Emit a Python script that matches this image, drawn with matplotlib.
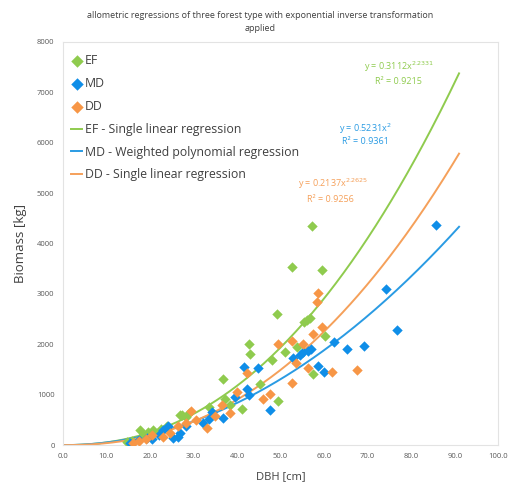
import numpy as np
import matplotlib
matplotlib.use("Agg")
import matplotlib.pyplot as plt

plt.rcParams['font.family'] = ['Open Sans', 'DejaVu Sans']

title = "allometric regressions of three forest type with exponential inverse transformation\napplied"

ef_dbh = [14.7, 15.8, 17.7, 18.4, 19.5, 20.7, 21.8, 22.5, 24.0, 26.9, 27.4, 28.2, 29.0, 33.5,
          36.8, 37.2, 38.5, 41.1, 42.8, 43.0, 45.3, 48.0, 49.2, 49.4, 51.0, 52.6, 53.8, 55.5,
          56.1, 56.7, 57.2, 57.5, 59.5, 60.2]
ef_bio = [60, 80, 298, 198, 260, 298, 240, 320, 380, 595, 595, 560, 640, 750,
          1310, 913, 800, 714, 2004, 1806, 1210, 1687, 2600, 873, 1845, 3532, 1944, 2450,
          2480, 2520, 4345, 1409, 3472, 2163]

md_dbh = [15.5, 17.5, 19.3, 20.5, 22.0, 23.0, 24.1, 25.3, 26.4, 27.0, 28.3, 32.2, 33.5, 34.3,
          36.8, 39.5, 41.6, 42.3, 42.8, 44.8, 47.6, 52.9, 54.5, 55.2, 56.3, 57.0, 58.6, 60.0,
          62.3, 65.3, 69.2, 74.3, 76.8, 85.7]
md_bio = [40, 100, 150, 120, 200, 300, 377, 139, 159, 250, 380, 436, 520, 655,
          536, 952, 1548, 1111, 1000, 1528, 694, 1726, 1786, 1850, 1865, 1900, 1567, 1448,
          2044, 1905, 1964, 3095, 2282, 4365]

dd_dbh = [16.1, 17.5, 19.0, 20.5, 23.0, 24.5, 26.5, 28.3, 29.4, 30.5, 33.1, 34.9, 36.5, 38.4,
          40.0, 42.3, 46.0, 47.6, 49.4, 52.6, 53.6, 52.6, 55.2, 56.3, 57.5, 58.4, 58.6, 59.5,
          61.8, 67.6]
dd_bio = [40, 90, 120, 200, 159, 250, 380, 436, 675, 500, 337, 575, 794, 635,
          1052, 1429, 913, 1012, 2004, 1230, 1627, 2063, 2004, 1528, 2200, 2837, 3016, 2341,
          1448, 1488]

# regression parameters (a * x^b)
ef_a, ef_b = 0.3112, 2.2331
md_a, md_b = 0.5231, 2.0
dd_a, dd_b = 0.2137, 2.2625

green_pt = '#8fcb4e'
blue_pt = '#0f8ee8'
orange_pt = '#f79646'
green_ln = '#8fcb4e'
blue_ln = '#2a9be3'
orange_ln = '#f5a05a'

fig = plt.figure(figsize=(5.11, 4.87), dpi=100)
ax = fig.add_axes([0.123, 0.086, 0.852, 0.828])

ms = 28
ax.scatter(ef_dbh, ef_bio, marker='D', s=ms, color=green_pt, label='EF', zorder=3, linewidths=0)
ax.scatter(md_dbh, md_bio, marker='D', s=ms, color=blue_pt, label='MD', zorder=3, linewidths=0)
ax.scatter(dd_dbh, dd_bio, marker='D', s=ms, color=orange_pt, label='DD', zorder=3, linewidths=0)

xs = np.linspace(0, 91, 300)
ax.plot(xs, ef_a * xs ** ef_b, color=green_ln, lw=1.4, label='EF - Single linear regression', zorder=2)
ax.plot(xs, md_a * xs ** md_b, color=blue_ln, lw=1.4, label='MD - Weighted polynomial regression', zorder=2)
ax.plot(xs, dd_a * xs ** dd_b, color=orange_ln, lw=1.4, label='DD - Single linear regression', zorder=2)

ax.set_xlim(0, 100)
ax.set_ylim(0, 8000)
ax.set_xticks(np.arange(0, 101, 10))
ax.set_xticklabels([f"{v:.1f}" for v in np.arange(0, 101, 10)])
ax.set_yticks(np.arange(0, 8001, 1000))
ax.tick_params(axis='both', length=0, labelsize=5.5, labelcolor='#595959', pad=6)
for s in ax.spines.values():
    s.set_color('#e3e3e3')
    s.set_linewidth(0.8)

ax.set_xlabel('DBH [cm]', fontsize=8, color='#404040', labelpad=8)
ax.set_ylabel('Biomass [kg]', fontsize=9.5, color='#404040', labelpad=7)
fig.text(0.51, 0.955, title, ha='center', va='center', fontsize=6.5, color='#404040', linespacing=1.5)

leg = ax.legend(loc='upper left', frameon=False, fontsize=8.8, bbox_to_anchor=(0.0, 0.99),
                handlelength=0.9, handletextpad=0.2, labelspacing=0.8, borderaxespad=0.3,
                markerscale=1.2)
for t in leg.get_texts():
    t.set_color('#404040')

fig.canvas.draw()


def put(px, py, s, c):
    x, y = ax.transData.inverted().transform((px, 487 - py))
    ax.text(x, y, s, fontsize=6.5, color=c, ha='center', va='center')


put(399, 67, r'y = 0.3112x$^{2.2331}$', green_ln)
put(398, 81, 'R² = 0.9215', green_ln)
put(365, 129, r'y = 0.5231x$^{2}$', blue_ln)
put(365, 142, 'R² = 0.9361', blue_ln)
put(333, 184, r'y = 0.2137x$^{2.2625}$', orange_ln)
put(330, 199, 'R² = 0.9256', orange_ln)

fig.savefig('out.png', dpi=100)
